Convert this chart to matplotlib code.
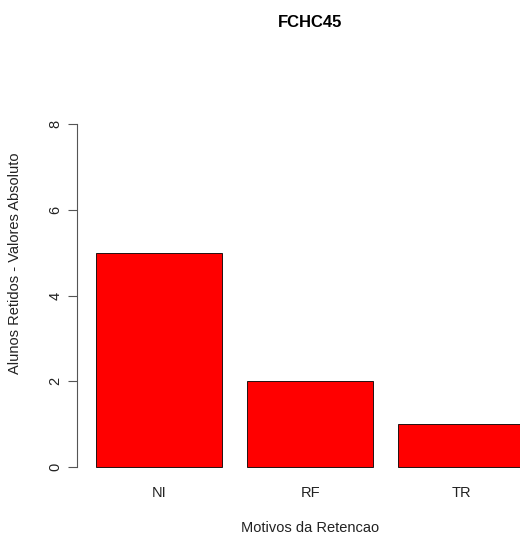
import numpy as np
import matplotlib
matplotlib.use("Agg")
import matplotlib.pyplot as plt

motivos = ["NI", "RF", "TR"]
alunos = [5, 2, 1]

plt.rcParams['font.family'] = ['Liberation Sans', 'DejaVu Sans']

# R barplot style: width 1, space 0.2
x = 0.7 + 1.2 * np.arange(len(motivos))

fig = plt.figure(figsize=(5.2, 5.35), dpi=100)
ax = fig.add_axes([88 / 520, 54.3 / 535, 444.5 / 520, 370.1 / 535])

ax.bar(x, alunos, width=1.0, color="#ff0000", edgecolor="black", linewidth=0.6)

ax.set_xlim(0.136, 3.664)
ax.set_ylim(-0.32, 8.32)

for s in ["top", "right", "bottom"]:
    ax.spines[s].set_visible(False)
ax.spines["left"].set_position(("outward", 8))
ax.spines["left"].set_bounds(0, 8)
ax.spines["left"].set_color("#555555")
ax.spines["left"].set_linewidth(0.8)

ax.set_yticks([0, 2, 4, 6, 8])
ax.set_yticklabels(["0", "2", "4", "6", "8"], rotation=90, va="center")
ax.tick_params(axis="y", length=6.5, width=0.8, color="#555555", pad=4,
               labelsize=10.5, labelcolor="#222222")

ax.set_xticks(x)
ax.set_xticklabels(motivos)
ax.tick_params(axis="x", length=0, pad=4, labelsize=10.5, labelcolor="#222222")

ax.set_xlabel("Motivos da Retencao", fontsize=10.5, labelpad=15, color="#222222")
ax.set_ylabel("Alunos Retidos - Valores Absoluto", fontsize=10.5, color="#222222")
ax.yaxis.set_label_coords(-0.148, 0.588)
ax.set_title("FCHC45", fontsize=12, fontweight="bold", pad=60)

fig.savefig("out.png", dpi=100)
